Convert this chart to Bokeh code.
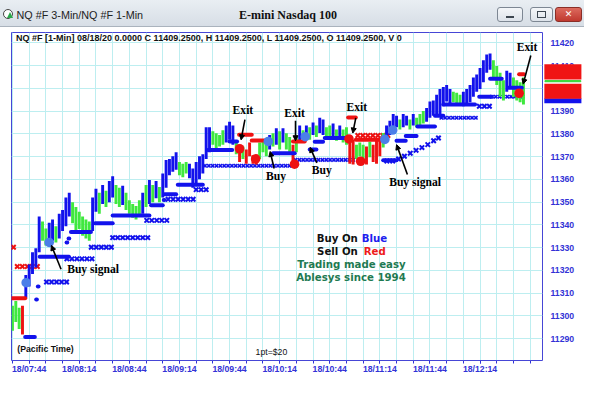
import numpy as np
from bokeh.plotting import figure
from bokeh.layouts import column
from bokeh.models import (ColumnDataSource, Range1d, FixedTicker, Label, Arrow, NormalHead,
                          LinearAxis, PrintfTickFormatter, Div)
from bokeh.core.properties import value
from bokeh.embed import file_html
from bokeh.resources import INLINE

# ---------------- data ----------------
# minutes after 18/07:44, price bars sampled every 2 minutes
bar_minute = list(range(0, 308, 2))
bar_high = [
    11304.5, 11306.6, 11303.6, 11304.5, 11318.0, 11322.6, 11328.0, 11329.8, 11343.7, 11341.5,
    11338.4, 11341.0, 11342.4, 11339.4, 11344.9, 11346.6, 11352.1, 11354.2, 11350.0, 11347.9,
    11345.8, 11343.7, 11342.4, 11341.5, 11352.1, 11355.9, 11354.2, 11357.6, 11355.0, 11359.3,
    11361.4, 11357.6, 11356.3, 11357.2, 11354.2, 11350.8, 11349.2, 11348.3, 11350.8, 11354.2,
    11357.6, 11359.7, 11357.6, 11359.3, 11356.7, 11362.6, 11368.6, 11369.0, 11370.2, 11371.9,
    11367.7, 11366.9, 11367.7, 11366.9, 11364.8, 11367.7, 11370.2, 11371.1, 11382.9, 11382.9,
    11381.2, 11380.3, 11379.5, 11381.6, 11383.7, 11385.4, 11383.7, 11377.0, 11375.3, 11374.5,
    11373.2, 11376.2, 11370.6, 11371.1, 11376.2, 11377.4, 11376.2, 11379.5, 11380.3, 11382.5,
    11381.2, 11382.5, 11380.3, 11378.7, 11375.3, 11379.5, 11383.7, 11381.6, 11383.7, 11382.9,
    11385.0, 11383.7, 11387.1, 11386.3, 11382.9, 11383.7, 11384.6, 11382.0, 11383.7, 11382.0,
    11382.9, 11379.5, 11377.4, 11375.3, 11376.2, 11375.3, 11374.5, 11376.6, 11375.3, 11377.0,
    11377.4, 11380.4, 11383.7, 11385.8, 11388.8, 11388.0, 11386.3, 11388.8, 11388.0, 11386.3,
    11388.8, 11387.1, 11388.8, 11390.1, 11391.4, 11394.3, 11394.7, 11397.2, 11399.8, 11400.6,
    11401.5, 11399.8, 11398.5, 11398.1, 11397.2, 11398.5, 11399.8, 11401.5, 11404.8, 11406.1,
    11409.0, 11412.4, 11414.9, 11415.4, 11412.4, 11409.9, 11406.9, 11403.6, 11407.8, 11406.9,
    11404.8, 11403.6, 11402.7, 11404.8]
bar_low = [
    11293.5, 11297.3, 11294.3, 11291.8, 11307.8, 11312.9, 11318.4, 11321.3, 11328.0, 11333.1,
    11331.0, 11330.6, 11333.1, 11332.3, 11334.0, 11337.3, 11339.4, 11343.7, 11340.7, 11337.3,
    11338.2, 11335.2, 11334.0, 11333.1, 11337.3, 11345.8, 11344.9, 11349.2, 11347.9, 11350.0,
    11352.1, 11349.2, 11347.9, 11348.8, 11346.6, 11344.9, 11343.2, 11342.4, 11343.7, 11344.9,
    11347.9, 11349.2, 11350.0, 11351.7, 11350.0, 11352.1, 11356.3, 11361.8, 11363.4, 11364.3,
    11361.8, 11361.0, 11362.6, 11360.5, 11356.3, 11357.6, 11360.1, 11362.6, 11369.0, 11371.9,
    11375.3, 11373.2, 11374.5, 11375.3, 11376.2, 11377.4, 11375.3, 11371.1, 11367.7, 11369.0,
    11366.9, 11370.2, 11366.9, 11366.6, 11369.0, 11371.9, 11370.2, 11373.2, 11374.5, 11375.3,
    11373.2, 11376.2, 11373.2, 11371.1, 11367.7, 11371.9, 11376.2, 11377.4, 11378.7, 11377.4,
    11379.5, 11378.7, 11380.4, 11379.5, 11377.4, 11378.3, 11378.7, 11377.0, 11377.4, 11376.2,
    11375.3, 11366.9, 11366.6, 11369.0, 11370.2, 11367.7, 11366.6, 11369.8, 11367.7, 11366.9,
    11370.2, 11374.0, 11376.2, 11379.5, 11381.6, 11382.9, 11382.0, 11382.9, 11383.7, 11382.0,
    11383.7, 11382.9, 11383.7, 11384.6, 11385.4, 11387.1, 11388.0, 11388.8, 11388.8, 11392.2,
    11394.3, 11393.0, 11393.9, 11393.5, 11393.0, 11392.2, 11393.0, 11393.9, 11396.4, 11398.5,
    11399.8, 11402.7, 11406.9, 11408.2, 11404.8, 11401.5, 11396.4, 11394.7, 11398.5, 11400.6,
    11396.4, 11394.7, 11393.9, 11393.0]
# b = blue (up), g = green, r = red (sell)
bar_side = "".join([
    "gggrbbbbbg", "gbbgbbbbgg", "ggggbbgbgb", "bggbgggggb", "gbgbgbbbbb",
    "gggbbbbbbb", "ggggbbbgrg", "rrrrgggbgb", "gbggrgbgbg", "bgbbggbgbg",
    "grrgggrgrr", "rgbbbbgbbg", "bgggbbbbbb", "bbgggbbbbb", "bbbbggggbb", "gggg"])

# blue trailing-stop dashes (start minute, end minute, level)
blue_stop_start = [7.6, 14.2, 15.2, 16.3, 32.4, 33.6, 35.0, 49.5, 60.0, 83.0, 90.6, 91.0, 99.0, 117.0,
                   130.0, 156.0, 178.0, 181.0, 187.0, 222.0, 230.0, 235.5, 242.5, 253.0, 258.0, 279.5,
                   286.0, 297.0]
blue_stop_end = [13.4, 14.6, 15.6, 33.8, 32.8, 34.0, 47.0, 60.0, 82.0, 90.0, 91.0, 98.0, 114.0, 131.6,
                 134.5, 169.0, 182.0, 186.0, 201.0, 230.0, 235.5, 242.0, 253.0, 258.0, 277.0, 287.0,
                 293.0, 305.0]
blue_stop_level = [11290.7, 11307.2, 11312.9, 11326.0, 11332.3, 11334.0, 11336.9, 11340.7, 11344.1,
                   11348.7, 11351.0, 11353.5, 11357.7, 11372.9, 11376.7, 11371.5, 11373.2, 11376.6,
                   11378.2, 11368.4, 11377.0, 11379.1, 11383.3, 11388.0, 11393.0, 11396.4, 11404.3,
                   11400.3]
# red stop dashes
red_stop_start = [-0.6, 135.7, 143.3, 168.0, 201.0, 205.6, 303.4]
red_stop_end = [7.6, 143.3, 152.0, 175.0, 205.6, 223.0, 306.3]
red_stop_level = [11307.8, 11379.6, 11377.1, 11376.7, 11387.2, 11377.4, 11406.3]

# rows of X markers (3-min indicator): start, end, level
bx_big_start = [20.4, 32.6, 47.2, 60.0, 80.4, 93.2, 110.0, 279.6]
bx_big_end = [33.8, 48.3, 60.0, 81.5, 93.8, 109.5, 116.0, 286.0]
bx_big_level = [11314.9, 11325.1, 11330.2, 11334.4, 11342.0, 11351.3, 11355.5, 11392.2]
bx_chain_start = [115.3, 169.5, 256.8, 287.1]
bx_chain_end = [167.7, 205.6, 278.4, 307.5]
bx_chain_level = [11366.0, 11368.6, 11387.1, 11396.4]
bx_ramp_minute = [224.2, 227.7, 231.2, 234.7, 238.2, 241.7, 245.2, 248.7, 252.2, 255.1]
bx_ramp_level = [11368.1, 11368.1, 11369.0, 11370.2, 11371.5, 11372.8, 11374.0, 11375.3, 11377.0, 11378.2]
rx_start = [0.6, 2.9, 206.8]
rx_end = [0.6, 15.1, 227.1]
rx_level = [11330.2, 11321.7, 11379.3]

# entry / exit dots
blue_dot_minute = [8.2, 22.0, 153.2, 175.3, 223.0, 227.7]
blue_dot_price = [11314.6, 11332.3, 11376.7, 11378.8, 11377.6, 11381.7]
red_dot_minute = [136.0, 145.6, 168.9, 201.5, 208.5, 303.4]
red_dot_price = [11373.5, 11369.0, 11366.7, 11377.8, 11368.0, 11397.9]

# callouts
note_text = ["Exit", "Exit", "Exit", "Exit", "Buy", "Buy", "Buy signal", "Buy signal"]
note_minute = [138.0, 168.9, 206.2, 308.1, 157.8, 185.2, 48.3, 241.1]
note_price = [11390.5, 11388.8, 11391.7, 11417.9, 11361.4, 11363.9, 11320.5, 11358.8]
arrow_minute0 = [139.2, 169.5, 205.6, 310.4, 156.7, 182.3, 29.1, 236.5]
arrow_price0 = [11386.3, 11385.8, 11387.1, 11414.5, 11364.8, 11367.3, 11320.5, 11362.2]
arrow_minute1 = [136.9, 169.5, 203.8, 305.8, 154.3, 178.2, 23.3, 230.0]
arrow_price1 = [11377.4, 11377.0, 11380.4, 11401.9, 11372.3, 11374.1, 11331.0, 11375.3]

# last-price markers on the price scale
last_prices = [11407.3, 11398.8]
marker_strip_price = [11403.2, 11394.6]

time_labels = ["18/07:44", "18/08:14", "18/08:44", "18/09:14", "18/09:44",
               "18/10:14", "18/10:44", "18/11:14", "18/11:44", "18/12:14"]
time_label_minute = [0, 30, 60, 90, 120, 150, 180, 210, 240, 270]
grid_minute = list(range(0, 311, 10))
price_ticks = list(range(11280, 11421, 10))

window_title = "NQ #F 3-Min/NQ #F 1-Min"
chart_title = "E-mini Nasdaq 100"
info_text = "NQ #F [1-Min] 08/18/20  0.0000 C 11409.2500, H 11409.2500, L 11409.2500, O 11409.2500, V 0"

# ---------------- styles / layout ----------------
BLUE = "#1212ec"
GREEN = "#3fe83f"
RED = "#ee1212"
AXIS_BLUE = "#3232d6"
GRID = "#bdeef0"
side_color = {"b": BLUE, "g": GREEN, "r": RED}
W, H = 584, 382
TB_H = 27
BORDER_L, BORDER_R = 11, 42
X_END = 317.4

# ---------------- window title bar (HTML) ----------------
title_html = f"""
<div style="position:relative;width:{W}px;height:{TB_H}px;overflow:hidden;
 background:linear-gradient(#e9eef3,#d7dee6);border-bottom:1px solid #aab3bd;box-sizing:border-box;
 font-family:'Liberation Sans',sans-serif;color:#222;">
 <div style="position:absolute;left:3px;top:9px;width:10px;height:10px;border:1.5px solid #444;
  border-radius:50%;background:#fff;"></div>
 <div style="position:absolute;left:6.5px;top:11.5px;width:0;height:0;border-left:3.5px solid transparent;
  border-right:3.5px solid transparent;border-bottom:6px solid #2aa84a;"></div>
 <span style="position:absolute;left:16.5px;top:8.5px;font-size:10.8px;line-height:13px;
  white-space:nowrap;">{window_title}</span>
 <span style="position:absolute;left:0;width:576px;top:7.5px;text-align:center;
  font-family:'Liberation Serif',serif;font-weight:bold;font-size:12px;line-height:15px;
  white-space:nowrap;color:#111;">{chart_title}</span>
 <div style="position:absolute;left:497px;top:7px;width:26px;height:15px;box-sizing:border-box;
  border:1px solid #7d8793;border-radius:3px;background:linear-gradient(#f4f6f9,#dde3ea);">
  <div style="position:absolute;left:8px;top:8px;width:8px;height:2px;background:#3c4650;"></div></div>
 <div style="position:absolute;left:530px;top:7px;width:23px;height:15px;box-sizing:border-box;
  border:1px solid #7d8793;border-radius:3px;background:linear-gradient(#f4f6f9,#dde3ea);">
  <div style="position:absolute;left:6px;top:3px;width:9px;height:7px;box-sizing:border-box;
   border:1.5px solid #3c4650;"></div></div>
 <div style="position:absolute;left:555px;top:7px;width:27px;height:15px;box-sizing:border-box;
  border:1px solid #8a2e27;border-radius:3px;background:linear-gradient(#dc6a5e,#c0392f);
  color:#fff;font-family:'DejaVu Sans',sans-serif;font-weight:bold;font-size:9px;line-height:13px;
  text-align:center;">&#10005;</div>
</div>"""
tb = Div(text=title_html, width=W, height=TB_H, margin=0)

# ---------------- main chart ----------------
p = figure(width=W, height=H - TB_H, x_range=Range1d(-0.58, X_END), y_range=Range1d(11280.4, 11424.6),
           y_axis_location="right", toolbar_location=None, output_backend="svg",
           min_border_left=BORDER_L, min_border_right=BORDER_R, min_border_top=5, min_border_bottom=22,
           background_fill_color="white", border_fill_color="white")
p.outline_line_color = "#4646d6"
p.outline_line_width = 1

LABEL_SHIFT = 10
xax = p.xaxis[0]
xax.ticker = FixedTicker(ticks=[m + LABEL_SHIFT for m in time_label_minute], minor_ticks=grid_minute)
xax.major_label_overrides = {m + LABEL_SHIFT: lab for m, lab in zip(time_label_minute, time_labels)}
xax.axis_line_color = None
xax.major_tick_out = 3
xax.major_tick_in = 0
xax.minor_tick_out = 3
xax.minor_tick_in = 0
xax.major_tick_line_color = AXIS_BLUE
xax.minor_tick_line_color = AXIS_BLUE
xax.major_label_standoff = 0
xax.major_label_text_font = "Liberation Sans"
xax.major_label_text_font_style = "bold"
xax.major_label_text_font_size = "8.7px"
xax.major_label_text_color = AXIS_BLUE

yax = p.yaxis[0]
yax.ticker = FixedTicker(ticks=price_ticks)
yax.axis_line_color = None
yax.major_tick_out = 0
yax.major_tick_in = 0
yax.minor_tick_line_color = None
yax.major_label_standoff = 8
yax.major_label_text_font = "Liberation Sans"
yax.major_label_text_font_style = "bold"
yax.major_label_text_font_size = "8.7px"
yax.major_label_text_color = AXIS_BLUE

p.xgrid.ticker = FixedTicker(ticks=grid_minute)
p.ygrid.ticker = FixedTicker(ticks=price_ticks)
p.xgrid.grid_line_color = GRID
p.ygrid.grid_line_color = GRID


def expand(starts, ends, levels, step):
    xs, ys = [], []
    for s, e, l in zip(starts, ends, levels):
        for t in np.arange(s, e + 0.01, step):
            xs.append(float(t))
            ys.append(l)
    return xs, ys


bx, by = expand(bx_big_start, bx_big_end, bx_big_level, 3.0)
bx += bx_ramp_minute
by += bx_ramp_level
p.scatter(x=bx, y=by, marker="x", size=6.3, line_color=BLUE, line_width=2)
cx, cy = expand(bx_chain_start, bx_chain_end, bx_chain_level, 2.3)
p.scatter(x=cx, y=cy, marker="x", size=4.8, line_color=BLUE, line_width=1.6)
rxx, rxy = expand(rx_start, rx_end, rx_level, 3.0)
p.scatter(x=rxx, y=rxy, marker="x", size=6.3, line_color=RED, line_width=2)

bars = ColumnDataSource(dict(t=bar_minute, high=bar_high, low=bar_low,
                             color=[side_color[c] for c in bar_side]))
p.vbar(x="t", top="high", bottom="low", width=1.75, fill_color="color", line_color=None, source=bars)

p.segment(x0=blue_stop_start, y0=blue_stop_level, x1=blue_stop_end, y1=blue_stop_level,
          line_color=BLUE, line_width=4, line_cap="round")
p.segment(x0=red_stop_start, y0=red_stop_level, x1=red_stop_end, y1=red_stop_level,
          line_color=RED, line_width=4, line_cap="round")

p.scatter(x=blue_dot_minute, y=blue_dot_price, marker="circle", size=9.6,
          fill_color="#4b7fe8", line_color=None)
p.scatter(x=red_dot_minute, y=red_dot_price, marker="circle", size=9.6,
          fill_color=RED, line_color=None)

arrows = ColumnDataSource(dict(x0=arrow_minute0, y0=arrow_price0, x1=arrow_minute1, y1=arrow_price1))
p.add_layout(Arrow(end=NormalHead(size=5, fill_color="black", line_color="black"),
                   x_start="x0", y_start="y0", x_end="x1", y_end="y1", source=arrows,
                   line_color="black", line_width=1.6))
p.text(x=note_minute, y=note_price, text=note_text, text_font=value("Liberation Serif"),
       text_font_style="bold", text_font_size="11.6px", text_color="black",
       text_align="center", text_baseline="middle")

p.text(x=[2.15], y=[11422.3], text=[info_text], text_font=value("Liberation Sans"),
       text_font_style="bold", text_font_size="9px", text_color="#111111",
       text_align="left", text_baseline="middle")
p.text(x=[2.9], y=[11285.5], text=["(Pacific Time)"], text_font=value("Liberation Sans"),
       text_font_style="bold", text_font_size="8.7px", text_color="#111111",
       text_align="left", text_baseline="middle")
p.text(x=[145.6], y=[11284.2], text=["1pt=$20"], text_font=value("Liberation Sans"),
       text_font_size="8.7px", text_color="#111111", text_align="left", text_baseline="middle")

fnt = value("DejaVu Sans")
p.text(x=[206.8, 206.8], y=[11334.0, 11328.5], text=["Buy On", "Sell On"], text_font=fnt,
       text_font_style="bold", text_font_size="10.2px", text_color="#111111",
       text_align="right", text_baseline="middle")
p.text(x=[209.1], y=[11334.0], text=["Blue"], text_font=fnt, text_font_style="bold",
       text_font_size="10.2px", text_color="#2020ee", text_align="left", text_baseline="middle")
p.text(x=[210.3], y=[11328.5], text=["Red"], text_font=fnt, text_font_style="bold",
       text_font_size="10.2px", text_color="#ee1a1a", text_align="left", text_baseline="middle")
p.text(x=[203.0, 202.7], y=[11322.6, 11317.1], text=["Trading made easy", "Ablesys since 1994"],
       text_font=fnt, text_font_style="bold", text_font_size="10.2px", text_color="#1f7a52",
       text_align="center", text_baseline="middle")

# price-scale marker boxes: thin side-panel labels (no frame clipping) whose thick border
# paints the box, so they take almost no room in the layout
MARK_X = 329.6     # centre of the marker boxes, in minutes
BOX_W = 37.0       # box width in pixels


def marker_box(price, color, height, side):
    lw = max(height - 1, 1)
    n = int(round((BOX_W - lw) / 0.278))
    p.add_layout(Label(x=MARK_X, y=price, text="\u00a0" * n, text_font="Liberation Sans",
                       text_font_size="1px", text_color=color, text_align="center",
                       text_baseline="middle", background_fill_color=color, border_line_color=color,
                       border_line_width=lw, border_line_join="miter", padding=0), side)


marker_box(marker_strip_price[1], BLUE, 5, "above")
marker_box(marker_strip_price[0], "#34d834", 2, "above")
marker_box(last_prices[0], "#f01414", 15, "below")
marker_box(last_prices[1], "#f01414", 15, "below")

# white price texts: a price axis fixed at the frame edge, painted after the boxes
mark_axis = LinearAxis(fixed_location=X_END, ticker=FixedTicker(ticks=last_prices),
                       formatter=PrintfTickFormatter(format="%.1f"))
mark_axis.axis_line_color = None
mark_axis.major_tick_line_color = None
mark_axis.minor_tick_line_color = None
mark_axis.major_label_standoff = 5
mark_axis.major_label_text_font = "Liberation Sans"
mark_axis.major_label_text_font_style = "bold"
mark_axis.major_label_text_font_size = "8.7px"
mark_axis.major_label_text_color = "white"
mark_axis.level = "annotation"
p.add_layout(mark_axis, "right")

layout = column(tb, p, spacing=0)
open("out.html", "w").write(file_html(layout, INLINE))
